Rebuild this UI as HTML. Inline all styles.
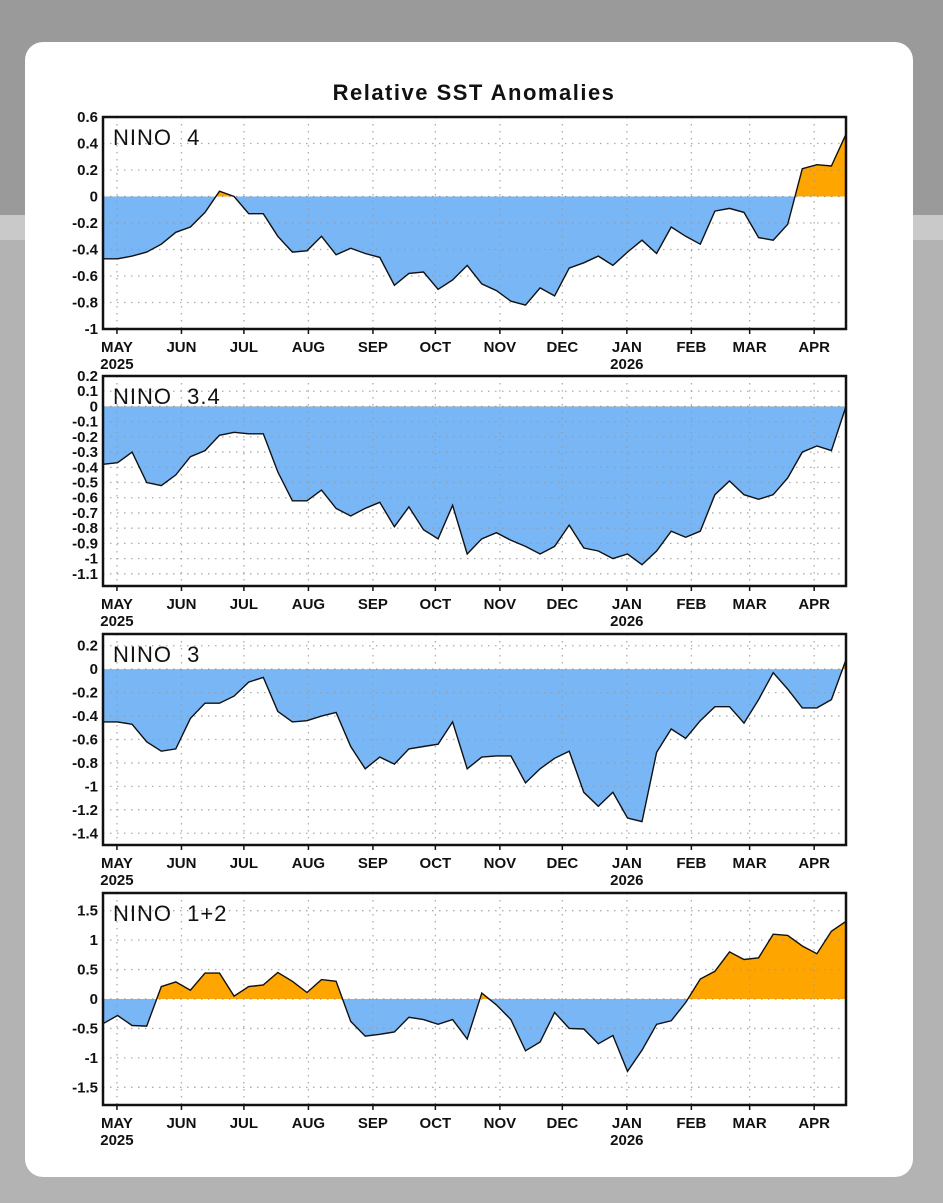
<!DOCTYPE html>
<html><head><meta charset="utf-8">
<style>
html,body{margin:0;padding:0;}
body{width:943px;height:1203px;position:relative;overflow:hidden;background:#b3b3b3;font-family:"Liberation Sans",sans-serif;}
#bgtop{position:absolute;left:0;top:0;width:943px;height:215px;background:#9a9a9a;}
#bgband{position:absolute;left:0;top:215px;width:943px;height:25px;background:#c9c9c9;}
#card{position:absolute;left:25px;top:42px;width:888px;height:1135px;background:#fff;border-radius:18px;}
svg{position:absolute;left:0;top:0;}
</style></head><body>
<div id="bgtop"></div>
<div id="bgband"></div>
<div id="card"></div>
<svg id="chart" width="943" height="1203">
<text x="474" y="100" text-anchor="middle" font-size="22" font-weight="bold" letter-spacing="1.5" font-family="'Liberation Sans',sans-serif" fill="#111">Relative SST Anomalies</text>
</svg>
<script>
const monthLabels = ["MAY","JUN","JUL","AUG","SEP","OCT","NOV","DEC","JAN","FEB","MAR","APR"];
const monthDays = [0,31,61,92,123,153,184,214,245,276,304,335];
const yearLabels = ["2025","2026"];
const panelNames = ["NINO 4","NINO 3.4","NINO 3","NINO 1+2"];
const nino4 = [-0.47,-0.47,-0.45,-0.42,-0.36,-0.27,-0.23,-0.12,0.04,0.0,-0.13,-0.13,-0.30,-0.42,-0.41,-0.30,-0.44,-0.39,-0.43,-0.46,-0.67,-0.58,-0.57,-0.70,-0.63,-0.52,-0.66,-0.71,-0.79,-0.82,-0.69,-0.75,-0.54,-0.50,-0.45,-0.52,-0.42,-0.33,-0.43,-0.23,-0.30,-0.36,-0.11,-0.09,-0.12,-0.31,-0.33,-0.21,0.21,0.24,0.23,0.47];
const nino34 = [-0.38,-0.37,-0.30,-0.50,-0.52,-0.45,-0.33,-0.29,-0.19,-0.17,-0.18,-0.18,-0.43,-0.62,-0.62,-0.55,-0.67,-0.72,-0.67,-0.63,-0.79,-0.66,-0.81,-0.87,-0.65,-0.97,-0.87,-0.83,-0.88,-0.92,-0.97,-0.92,-0.78,-0.93,-0.95,-1.00,-0.97,-1.04,-0.95,-0.82,-0.86,-0.82,-0.58,-0.49,-0.58,-0.61,-0.58,-0.47,-0.30,-0.26,-0.29,0.0];
const nino3 = [-0.45,-0.45,-0.47,-0.62,-0.70,-0.68,-0.42,-0.29,-0.29,-0.23,-0.11,-0.07,-0.36,-0.45,-0.44,-0.40,-0.37,-0.66,-0.85,-0.75,-0.81,-0.68,-0.66,-0.64,-0.45,-0.85,-0.75,-0.74,-0.74,-0.97,-0.85,-0.76,-0.70,-1.05,-1.17,-1.05,-1.27,-1.30,-0.71,-0.51,-0.59,-0.44,-0.32,-0.32,-0.46,-0.26,-0.03,-0.17,-0.33,-0.33,-0.26,0.08];
const nino12 = [-0.42,-0.28,-0.45,-0.46,0.21,0.29,0.15,0.44,0.44,0.05,0.21,0.24,0.45,0.30,0.11,0.33,0.30,-0.38,-0.63,-0.60,-0.56,-0.31,-0.35,-0.43,-0.35,-0.68,0.10,-0.10,-0.35,-0.88,-0.73,-0.23,-0.50,-0.51,-0.76,-0.62,-1.23,-0.87,-0.43,-0.37,-0.06,0.34,0.47,0.80,0.67,0.70,1.10,1.08,0.90,0.77,1.15,1.32];
const ticks4 = [0.6,0.4,0.2,0,-0.2,-0.4,-0.6,-0.8,-1];
const ticks34 = [0.2,0.1,0,-0.1,-0.2,-0.3,-0.4,-0.5,-0.6,-0.7,-0.8,-0.9,-1,-1.1];
const ticks3 = [0.2,0,-0.2,-0.4,-0.6,-0.8,-1,-1.2,-1.4];
const ticks12 = [1.5,1,0.5,0,-0.5,-1,-1.5];

const NS="http://www.w3.org/2000/svg";
const svg=document.getElementById('chart');
const L=103,R=846;
const startOffsetDays=6.7, dayPx=(R-L)/357;
function xWeek(i){return L+i*(R-L)/51;}
function xDay(d){return L+(d+startOffsetDays)*dayPx;}
function mk(tag,attrs,parent){const e=document.createElementNS(NS,tag);for(const k in attrs)e.setAttribute(k,attrs[k]);(parent||svg).appendChild(e);return e;}

const panels=[
 {data:nino4,ticks:ticks4,lo:-1,hi:0.6,top:117,bot:329,slug:'nino4'},
 {data:nino34,ticks:ticks34,lo:-1.18,hi:0.2,top:376,bot:586,slug:'nino34'},
 {data:nino3,ticks:ticks3,lo:-1.5,hi:0.3,top:634,bot:845,slug:'nino3'},
 {data:nino12,ticks:ticks12,lo:-1.8,hi:1.8,top:893,bot:1105,slug:'nino12'}
];
const lblFont="'Liberation Sans Narrow','Liberation Sans',sans-serif";
panels.forEach((p,pi)=>{
  const y=v=>p.bot-(v-p.lo)/(p.hi-p.lo)*(p.bot-p.top);
  const g=mk('g',{});
  
  
  const y0=y(0);
  const defs=mk('defs',{},g);
  const cpA=mk('clipPath',{id:'ca'+pi},defs); mk('rect',{x:L,y:p.top,width:R-L,height:y0-p.top},cpA);
  const cpB=mk('clipPath',{id:'cb'+pi},defs); mk('rect',{x:L,y:y0,width:R-L,height:p.bot-y0},cpB);
  let pts=p.data.map((v,i)=>xWeek(i).toFixed(1)+','+y(v).toFixed(1));
  const poly=xWeek(0)+','+y0+' '+pts.join(' ')+' '+xWeek(p.data.length-1)+','+y0;
  const pos=mk('polygon',{points:poly,fill:'#ffa500','clip-path':'url(#ca'+pi+')'},g);
  
  
  const neg=mk('polygon',{points:poly,fill:'#78b6f5','clip-path':'url(#cb'+pi+')'},g);
  
  
  p.ticks.forEach(t=>{
    const yy=y(t);
    if(t!==0&&yy>p.top+2&&yy<p.bot-2)mk('line',{x1:L,x2:R,y1:yy,y2:yy,stroke:'#999','stroke-width':1.3,'stroke-dasharray':'1.5,5.5',opacity:0.8},g);
    const tl=mk('text',{x:L-5,y:yy+5,'text-anchor':'end','font-size':15,'font-weight':'bold','font-family':lblFont,fill:'#111'},g);
    tl.textContent=String(t);
    
    
  });
  mk('line',{x1:L,x2:R,y1:y0,y2:y0,stroke:'#999','stroke-width':1.3,'stroke-dasharray':'1.5,5.5'},g);
  monthDays.forEach((d,mi)=>{
    const xx=xDay(d);
    mk('line',{x1:xx,x2:xx,y1:p.top,y2:p.bot,stroke:'#999','stroke-width':1.3,'stroke-dasharray':'1.5,5.5',opacity:0.8},g);
    mk('line',{x1:xx,x2:xx,y1:p.bot,y2:p.bot+5,stroke:'#111','stroke-width':1.5},g);
    const ml=mk('text',{x:xx,y:p.bot+23,'text-anchor':'middle','font-size':15,'font-weight':'bold','font-family':lblFont,fill:'#111'},g);
    ml.textContent=monthLabels[mi];
    
    
  });
  [0,8].forEach((mi,k)=>{
    const yl=mk('text',{x:xDay(monthDays[mi]),y:p.bot+40,'text-anchor':'middle','font-size':15,'font-weight':'bold','font-family':lblFont,fill:'#111'},g);
    yl.textContent=yearLabels[k];
    
    
  });
  const line=mk('polyline',{points:pts.join(' '),fill:'none',stroke:'#111','stroke-width':1.4},g);
  
  
  mk('rect',{x:L,y:p.top,width:R-L,height:p.bot-p.top,fill:'none',stroke:'#111','stroke-width':2.5},g);
  const nl=mk('text',{x:L+10,y:p.top+28,'font-size':22,'letter-spacing':1,'word-spacing':8,'font-family':"'Liberation Sans',sans-serif",fill:'#111'},g);
  nl.textContent=panelNames[pi];
  
  
});
</script>
</body></html>
